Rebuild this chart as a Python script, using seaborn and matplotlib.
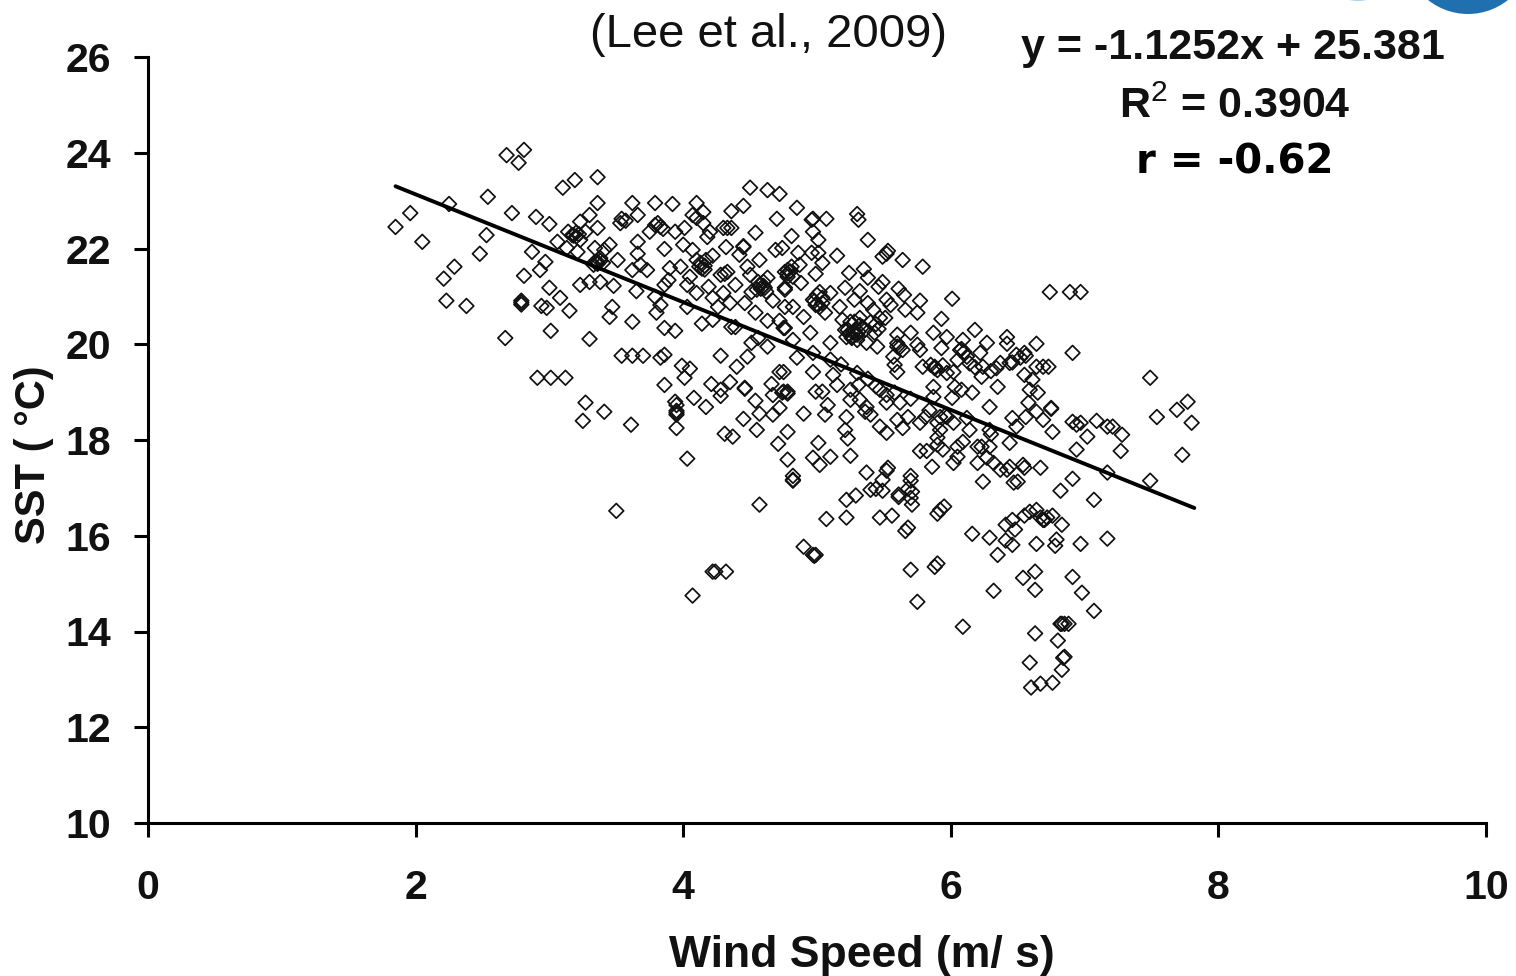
import pandas as pd
import seaborn as sns
import matplotlib.pyplot as plt
from matplotlib.patches import Ellipse

# (wind speed m/s, SST degC), region by region
left_pts = [(1.85,22.45),(1.96,22.74),(2.05,22.14),(2.25,22.93),(2.21,21.37),(2.29,21.62),(2.23,20.91),(2.38,20.80),
    (2.48,21.89),(2.53,22.28),(2.54,23.08),(2.67,20.13),(2.68,23.95),(2.77,23.79),(2.81,24.06),(2.72,22.74),
    (2.90,22.66),(3.00,22.51),(2.81,21.43),(2.87,21.93),(2.97,21.72),(2.93,21.55),(2.79,20.91),(2.79,20.83),
    (2.79,20.87),(2.94,20.80),(3.00,21.18),(3.08,20.97),(2.98,20.76),(3.15,20.70),(3.01,20.28),(2.91,19.30),
    (3.01,19.30),(3.12,19.30),(3.30,20.11),(3.27,18.78),(3.25,18.40),(3.41,18.59),(3.61,18.32),(3.50,16.52),
    (3.10,23.27),(3.19,23.43),(3.36,23.49),(3.36,22.95)]

upper_left_pts = [(3.23,22.56),(3.17,22.28),(3.20,22.33),(3.14,22.35),(3.23,22.18),(3.06,22.14),(3.13,22.01),(3.21,21.93),
    (3.34,22.01),(3.45,22.08),(3.41,21.97),(3.51,21.76),(3.36,21.72),(3.38,21.80),(3.33,21.66),(3.30,22.70),
    (3.27,22.35),(3.36,22.43),(3.38,21.30),(3.30,21.30),(3.23,21.24),(3.48,21.22),(3.65,21.11),(3.79,20.99),
    (3.45,20.57),(3.47,20.78),(3.62,20.47),(3.86,20.34),(3.94,20.28),(4.14,20.43),(4.22,20.51),(3.80,20.66),
    (3.83,20.82),(3.53,22.53),(3.57,22.58),(3.54,22.62),(3.62,22.95),(3.66,22.70),(3.79,22.95),(3.92,22.93),
    (4.10,22.95),(4.50,23.27),(4.63,23.22),(4.72,23.14),(4.36,22.78),(4.45,22.89),(4.85,22.85),(4.70,22.62),
    (3.75,22.35),(3.81,22.53),(3.83,22.45),(3.79,22.49),(3.85,22.41),(3.94,22.35),(4.01,22.43),(4.07,22.70),
    (4.15,22.76),(4.10,22.64),(4.15,22.53),(4.18,22.24),(4.20,22.35),(4.30,22.43),(4.36,22.43),(4.33,22.43),
    (4.54,22.33),(4.81,22.26),(3.66,22.14),(3.86,21.99),(4.00,22.08),(4.07,21.97),(3.66,21.89),(4.32,22.03),
    (4.45,22.03),(4.45,22.05),(4.69,21.97),(4.74,22.01),(4.22,21.85),(4.42,21.87),(4.57,21.76),(4.13,21.70),
    (4.16,21.64),(4.10,21.76),(4.17,21.76),(3.98,21.62),(4.33,21.51),(4.31,21.47),(4.48,21.62),(4.78,21.55),
    (4.82,21.41),(3.90,21.59),(3.73,21.55),(3.62,21.55),(3.68,21.66),(3.89,21.34),(3.86,21.24),(4.05,21.41),
    (4.28,21.45),(4.50,21.45),(4.60,21.30),(4.57,21.24),(4.55,21.14),(4.61,21.18),(4.51,21.09),(4.63,21.39),
    (4.39,21.24),(4.03,21.24),(4.19,21.20),(4.30,21.07),(4.10,21.07),(4.67,20.91),(4.76,21.18),(4.76,20.78),
    (4.82,20.78),(4.35,20.86),(4.22,20.97),(4.46,20.86),(4.54,20.66),(4.26,20.78),(4.03,20.78),(4.63,20.49),
    (4.72,20.49),(4.76,20.34),(4.36,20.36),(4.39,20.36),(4.51,20.03),(4.56,20.13),(4.63,19.95),(4.82,20.09)]

upper_right_pts = [(4.97,22.62),(4.96,22.60),(5.07,22.62),(5.30,22.72),(5.31,22.60),(5.38,22.18),(4.97,22.35),(5.01,22.18),
    (4.86,21.91),(5.01,21.91),(4.96,21.91),(5.15,21.85),(5.53,21.95),(5.49,21.83),(5.52,21.89),(5.64,21.76),
    (5.79,21.62),(5.04,21.70),(4.87,21.66),(4.81,21.62),(4.78,21.41),(4.76,21.51),(4.99,21.47),(4.88,21.28),
    (5.24,21.49),(5.35,21.57),(5.38,21.39),(5.49,21.30),(5.46,21.20),(5.21,21.18),(5.61,21.16),(5.65,21.03),
    (5.32,21.11),(5.00,21.03),(4.97,20.93),(4.99,20.82),(5.02,21.09),(5.10,21.07),(5.04,20.97),(5.77,20.91),
    (6.01,20.95),(5.28,20.93),(5.38,20.86),(5.55,20.82),(5.52,20.93),(5.66,20.72),(5.75,20.66),(5.17,20.78),
    (5.06,20.66),(4.76,21.14),(4.90,20.57),(5.93,20.53),(5.19,20.51),(5.32,20.55),(5.47,20.55),(5.51,20.55),
    (5.42,20.72),(4.75,20.34),(4.95,20.24),(5.23,20.30),(5.32,20.40),(5.28,20.47),(5.25,20.47),(5.21,20.30),
    (5.26,20.13),(5.31,20.26),(5.43,20.24),(5.70,20.24),(5.87,20.24),(5.97,20.15),(6.18,20.30),(6.27,20.03),
    (6.09,20.09),(6.42,20.15),(6.42,20.01),(6.64,20.01),(6.91,19.82),(6.74,21.09),(6.89,21.09),(6.97,21.09)]

band_pts = [(6.49,19.78),(6.55,19.82),(6.44,19.61),(6.37,19.61),(6.64,19.53),(6.69,19.53),(6.73,19.53),(6.55,19.36),
    (6.61,19.26),(6.35,19.11),(6.23,19.32),(6.24,19.53),(6.16,18.99),(6.08,19.05),(6.01,18.88),(6.03,19.11),
    (5.87,19.11),(5.79,19.53),(5.88,19.53),(5.85,19.57),(5.77,19.88),(5.93,19.92),(5.60,19.95),(5.60,20.20),
    (6.07,19.88),(6.05,19.67),(6.12,19.74),(5.97,19.40),(6.02,19.42),(6.22,19.82),(5.75,19.99),(5.57,19.74),
    (5.60,19.42),(5.58,19.57),(5.45,19.95),(5.37,20.03),(5.27,20.24),(5.30,20.09),(5.22,20.15),(5.10,20.03),
    (4.97,19.82),(4.85,19.72),(4.75,19.42),(4.97,19.42),(5.12,19.36),(5.15,19.15),(4.99,19.01),(5.04,19.01),
    (4.78,19.01),(4.75,19.01),(5.31,19.15),(5.25,19.05),(5.25,18.84),(5.32,18.84),(5.37,18.69),(5.40,18.53),
    (5.36,18.59),(5.08,18.73),(4.90,18.55),(5.06,18.53),(5.22,18.48),(5.47,19.05),(5.58,18.99),(5.52,18.78),
    (5.62,18.78),(5.68,18.48),(5.60,18.42),(5.64,18.25),(5.47,18.28),(5.52,18.15),(5.77,18.36),(5.81,18.48),
    (5.21,18.21),(4.78,18.17),(5.23,18.03),(5.01,17.94),(5.25,17.67),(5.10,17.65),(4.97,17.63),(5.02,17.48),
    (4.78,17.59),(6.29,18.69),(5.87,18.90),(6.46,18.46),(6.56,18.48),(6.64,18.59),(6.58,18.78),(6.65,18.99),
    (6.59,19.05),(6.75,18.67),(6.75,18.65),(6.69,18.42),(6.49,18.28),(6.76,18.17),(6.91,18.38),(6.97,18.36),
    (6.94,18.32),(7.09,18.40),(7.17,18.28),(7.21,18.28),(7.28,18.11),(7.02,18.07),(6.94,17.80),(7.27,17.77),
    (7.49,19.30),(7.69,18.63),(7.77,18.80),(7.54,18.48),(7.80,18.36),(7.73,17.69),(5.92,18.48),(5.90,18.36),
    (5.97,18.48),(5.92,18.21),(6.02,18.36),(6.14,18.21),(6.29,18.21),(5.90,18.05),(5.90,17.90),(6.09,17.96),
    (6.05,17.86),(6.20,17.86),(6.23,17.86),(6.29,17.86),(5.77,17.77),(5.82,17.77),(5.94,17.80),(6.05,17.65),
    (6.02,17.52),(6.20,17.52),(6.27,17.63),(6.32,17.52),(6.44,17.44),(6.54,17.48),(5.86,17.44),(5.53,17.42)]

mid_left_pts = [(3.54,19.76),(3.62,19.76),(3.70,19.76),(3.83,19.72),(3.86,19.78),(4.28,19.76),(4.48,19.74),(4.40,19.53),
    (3.99,19.55),(4.05,19.49),(4.01,19.30),(3.86,19.15),(4.21,19.17),(4.35,19.21),(4.28,19.05),(4.28,18.92),
    (4.46,19.09),(4.46,19.07),(4.66,19.17),(4.67,18.94),(4.74,18.99),(4.78,18.97),(4.54,18.82),(4.72,19.42),
    (4.67,18.53),(4.72,18.67),(4.57,18.55),(4.45,18.44),(4.55,18.21),(4.71,17.92),(4.82,17.17),(4.82,17.15),
    (4.82,17.25),(4.31,18.13),(4.37,18.07),(4.17,18.69),(4.08,18.88),(3.94,18.80),(3.95,18.61),(3.95,18.57),
    (3.95,18.73),(3.95,18.53),(3.95,18.25),(4.03,17.61),(4.57,16.65),(5.22,16.75),(5.29,16.84),(5.07,16.35),
    (5.22,16.38),(4.90,15.77),(4.97,15.60),(4.98,15.58),(4.99,15.60),(4.07,14.75),(4.24,15.25),(4.22,15.25),
    (4.32,15.25)]

lower_right_pts = [(5.37,17.32),(5.52,17.36),(5.49,17.17),(5.40,16.96),(5.44,16.98),(5.49,16.94),(5.61,16.81),(5.47,16.38),
    (5.56,16.42),(5.70,17.15),(5.68,16.98),(5.70,17.25),(5.61,16.86),(5.70,16.79),(5.71,16.65),(5.71,16.92),
    (5.70,15.29),(5.88,15.35),(5.90,15.42),(5.75,14.62),(6.09,14.10),(5.66,16.10),(5.68,16.17),(5.90,16.46),
    (5.95,16.61),(5.92,16.54),(6.16,16.04),(6.29,15.96),(6.35,15.60),(6.41,15.90),(6.32,14.85),(6.41,16.23),
    (6.46,16.33),(6.48,16.13),(6.55,16.42),(6.46,15.81),(6.54,15.12),(6.63,15.25),(6.63,14.87),(6.59,16.50),
    (6.64,16.54),(6.67,16.38),(6.69,16.33),(6.72,16.38),(6.70,16.33),(6.76,16.42),(6.64,15.83),(6.78,15.79),
    (6.79,15.92),(6.83,16.23),(6.97,15.83),(7.17,15.94),(6.91,15.14),(6.98,14.81),(7.07,14.43),(6.63,13.96),
    (6.59,13.35),(6.60,12.83),(6.67,12.91),(6.76,12.93),(6.83,13.20),(6.85,13.47),(6.84,13.45),(6.80,13.81),
    (6.82,14.16),(6.83,14.16),(6.85,14.16),(6.88,14.16),(6.91,17.19),(6.82,16.94),(7.07,16.75),(7.17,17.32),
    (7.49,17.15),(6.37,17.38),(6.47,17.11),(6.42,17.38),(6.55,17.42),(6.67,17.42),(6.50,17.13),(6.24,17.13)]

# the dark clumps where diamonds pile up
clump_pts = [(3.18,22.27),(3.20,22.25),(3.22,22.30),(3.34,21.72),(3.36,21.68),(3.38,21.74),(3.40,21.70),(4.12,21.62),
    (4.14,21.58),(4.16,21.56),(4.56,21.30),(4.58,21.16),(4.60,21.22),(4.62,21.10),(4.78,21.48),(4.80,21.52),
    (4.98,20.90),(5.00,20.84),(5.02,20.78),(5.04,20.86),(5.24,20.22),(5.26,20.16),(5.28,20.28),(5.30,20.20),
    (5.34,20.36),(5.36,20.30),(5.40,20.46),(5.44,20.42),(5.46,20.32),(5.60,20.02),(5.62,19.94),(5.64,19.88),
    (5.88,19.50),(5.90,19.46),(5.94,19.56),(6.08,19.90),(6.10,19.84),(6.14,19.60),(6.18,19.52),(6.30,19.44),
    (6.34,19.50),(6.46,19.62),(6.52,19.72),(6.56,19.76),(5.10,19.68),(5.18,19.58),(5.30,19.40),(5.38,19.28),
    (5.44,19.12),(5.52,18.94),(5.70,18.86),(5.84,18.62),(5.96,18.52),(6.12,18.46),(6.30,18.12),(6.44,17.94)]

# trend line ends
trend_x = [1.85, 7.82]
trend_y = [23.30, 16.58]

x_ticks = [0, 2, 4, 6, 8, 10]
y_ticks = [10, 12, 14, 16, 18, 20, 22, 24, 26]

all_pts = left_pts + upper_left_pts + upper_right_pts + band_pts + mid_left_pts + lower_right_pts + clump_pts
df = pd.DataFrame(all_pts, columns=['wind', 'sst'])
line_df = pd.DataFrame({'wind': trend_x, 'sst': trend_y})

sns.set_theme(style='white')
plt.rcParams['font.family'] = ['Liberation Sans', 'DejaVu Sans']
plt.rcParams['mathtext.fontset'] = 'custom'
plt.rcParams['mathtext.rm'] = 'Liberation Sans'
plt.rcParams['mathtext.bf'] = 'Liberation Sans:bold'
plt.rcParams['mathtext.default'] = 'rm'

fig = plt.figure(figsize=(15.16, 9.76), dpi=100, facecolor='white')
W, H = 1516.0, 976.0
ax = fig.add_axes([148/W, 1 - 823/H, (1486-148)/W, (823-57)/H])

sns.scatterplot(data=df, x='wind', y='sst', ax=ax, marker='D', s=56,
                facecolor='none', edgecolor='#111111', linewidth=1.25, legend=False)
sns.lineplot(data=line_df, x='wind', y='sst', ax=ax, color='black', linewidth=2.8)

ax.set_xlim(0, 10)
ax.set_ylim(10, 26)
ax.set_xticks(x_ticks)
ax.set_yticks(y_ticks)
ax.tick_params(axis='y', direction='out', length=10, width=2.2, color='black', left=True,
               labelcolor='#111111', labelsize=29.5, pad=16.5)
ax.tick_params(axis='x', direction='out', length=10, width=2.2, color='black', bottom=True,
               labelcolor='#111111', labelsize=29.5, pad=23)
for lab in ax.get_xticklabels() + ax.get_yticklabels():
    lab.set_fontweight('bold')
sns.despine(ax=ax)
ax.spines['left'].set_linewidth(2.2)
ax.spines['bottom'].set_linewidth(2.2)
ax.spines['left'].set_color('black')
ax.spines['bottom'].set_color('black')
ax.set_xlabel('')
ax.set_ylabel('')

fig.text(862/W, 1 - 955/H, 'Wind Speed (m/ s)', fontsize=32, fontweight='bold', ha='center', va='center', color='#111111')
fig.text(34/W, 1 - 455/H, 'SST ( °C)', fontsize=30, fontweight='bold', rotation=90, ha='center', va='center', color='#111111')

fig.text(769/W, 1 - 35/H, '(Lee et al., 2009)', fontsize=34, ha='center', va='center', color='#111111')
fig.text(1233/W, 1 - 48/H, 'y = -1.1252x + 25.381', fontsize=31, fontweight='bold', ha='center', va='center', color='#111111')
fig.text(1235/W, 1 - 107/H, r'$\mathbf{R}^{2}$ = 0.3904', fontsize=31, fontweight='bold', ha='center', va='center', color='#111111')
fig.text(1235/W, 1 - 163/H, 'r = -0.62', fontsize=29, fontweight='bold', family='DejaVu Sans', ha='center', va='center', color='black')

# corner of the logo cut by the top edge
fig.add_artist(Ellipse((1468/W, 1 + 50/H), 128/W, 128/H, transform=fig.transFigure, facecolor='#2070b0', edgecolor='none'))
fig.add_artist(Ellipse((1358/W, 1 + 9/H), 40/W, 20/H, transform=fig.transFigure, facecolor='#a8d4ea', edgecolor='none'))

fig.savefig('out.png', dpi=100, facecolor='white')
